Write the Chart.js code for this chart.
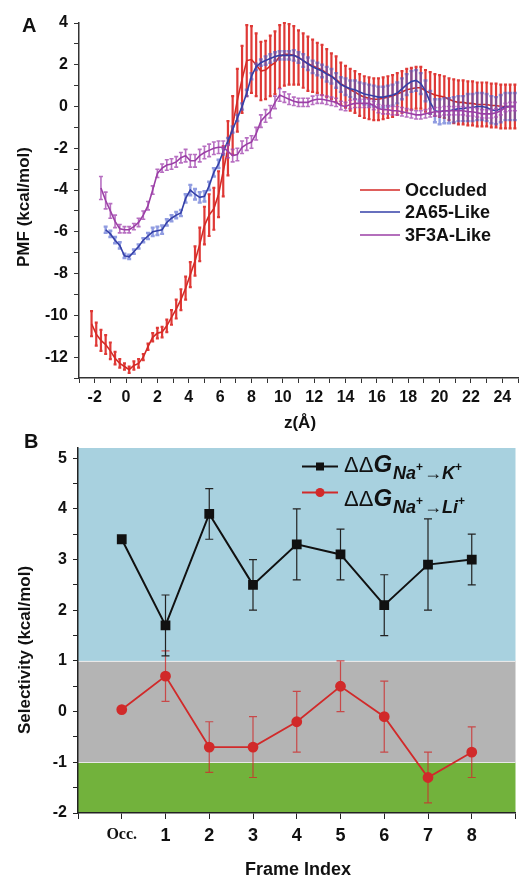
<!DOCTYPE html>
<html>
<head>
<meta charset="utf-8">
<script src="https://cdn.jsdelivr.net/npm/chart.js@4.4.1/dist/chart.umd.min.js"></script>
<style>
    html, body { margin: 0; padding: 0; background: #fff; }
    #wrapA { position: absolute; left: 0; top: 0; width: 523px; height: 440px; }
    #wrapB { position: absolute; left: 0; top: 420px; width: 523px; height: 461px; }
</style>
</head>
<body>
<div id="wrapA"><canvas id="pmfChart" width="523" height="440"></canvas></div>
<div id="wrapB"><canvas id="selChart" width="523" height="461"></canvas></div>
<script>
// ---- Panel A : PMF profiles (kcal/mol) along z (Å) ----
const zGrid = [
    -2.2, -1.9, -1.6, -1.3, -1.0, -0.7, -0.4, -0.1, 0.2, 0.5,
    0.8, 1.1, 1.4, 1.7, 2.0, 2.3, 2.6, 2.9, 3.2, 3.5,
    3.8, 4.1, 4.4, 4.7, 5.0, 5.3, 5.6, 5.9, 6.2, 6.5,
    6.8, 7.1, 7.4, 7.7, 8.0, 8.3, 8.6, 8.9, 9.2, 9.5,
    9.8, 10.1, 10.4, 10.7, 11.0, 11.3, 11.6, 11.9, 12.2, 12.5,
    12.8, 13.1, 13.4, 13.7, 14.0, 14.3, 14.6, 14.9, 15.2, 15.5,
    15.8, 16.1, 16.4, 16.7, 17.0, 17.3, 17.6, 17.9, 18.2, 18.5,
    18.8, 19.1, 19.4, 19.7, 20.0, 20.3, 20.6, 20.9, 21.2, 21.5,
    21.8, 22.1, 22.4, 22.7, 23.0, 23.3, 23.6, 23.9, 24.2, 24.5,
    24.8
];
const pmfOccluded = [
    -10.4, -10.9, -11.2, -11.4, -11.7, -12.05, -12.3, -12.45, -12.6, -12.4,
    -12.3, -12.0, -11.5, -11.05, -10.85, -10.8, -10.5, -10.1, -9.7, -9.25,
    -8.7, -8.05, -7.4, -6.6, -5.7, -5.2, -4.9, -4.2, -3.1, -2.0,
    -0.9, 0.3, 1.3, 2.2, 2.25, 2.0, 1.7, 1.75, 1.95, 2.1,
    2.4, 2.5, 2.5, 2.45, 2.35, 2.2, 2.05, 1.95, 1.85, 1.75,
    1.6, 1.45, 1.3, 1.1, 0.95, 0.8, 0.7, 0.55, 0.45, 0.4,
    0.35, 0.35, 0.4, 0.45, 0.5, 0.6, 0.7, 0.8, 0.85, 0.9,
    0.9, 0.75, 0.65, 0.55, 0.5, 0.45, 0.35, 0.25, 0.2, 0.2,
    0.15, 0.15, 0.1, 0.1, 0.1, 0.05, 0.05, 0, 0, 0,
    0
];
const errOccluded = [
    0.6, 0.55, 0.5, 0.45, 0.4, 0.3, 0.2, 0.15, 0.15, 0.2,
    0.2, 0.15, 0.15, 0.2, 0.25, 0.25, 0.3, 0.35, 0.45, 0.5,
    0.55, 0.6, 0.7, 0.8, 0.9, 1.0, 1.0, 1.1, 1.2, 1.3,
    1.4, 1.5, 1.6, 1.7, 1.6, 1.5, 1.4, 1.4, 1.45, 1.5,
    1.5, 1.5, 1.45, 1.4, 1.3, 1.3, 1.3, 1.25, 1.2, 1.2,
    1.15, 1.1, 1.1, 1.0, 1.0, 1.0, 1.0, 1.0, 1.0, 1.0,
    1.0, 1.0, 1.0, 1.0, 1.0, 1.0, 1.0, 1.0, 1.0, 1.0,
    1.0, 1.0, 1.0, 1.0, 1.0, 1.0, 1.0, 1.05, 1.05, 1.05,
    1.05, 1.05, 1.05, 1.05, 1.05, 1.05, 1.05, 1.05, 1.05, 1.05,
    1.05
];
const pmf2A65 = [
    null, null, null, -5.9, -6.1, -6.4, -6.65, -7.15, -7.2, -6.95,
    -6.7, -6.4, -6.2, -6.0, -5.95, -5.9, -5.55, -5.35, -5.2, -5.1,
    -4.4, -4.0, -4.2, -4.35, -4.3, -3.8, -3.15, -2.75, -2.15, -1.65,
    -1.1, -0.55, 0.0, 0.65, 1.45, 1.9, 2.1, 2.2, 2.3, 2.4,
    2.45, 2.45, 2.45, 2.45, 2.35, 2.2, 2.05, 1.9, 1.8, 1.7,
    1.55, 1.45, 1.25, 1.05, 0.95, 0.85, 0.8, 0.7, 0.6, 0.55,
    0.5, 0.45, 0.45, 0.5, 0.55, 0.65, 0.85, 1.05, 1.2, 1.25,
    1.1, 0.75, 0.2, -0.2, -0.25, -0.2, -0.2, -0.15, -0.1, -0.1,
    -0.05, -0.05, 0, 0, -0.05, -0.15, -0.2, -0.1, 0, 0,
    0
];
const err2A65 = [
    null, null, null, 0.15, 0.15, 0.15, 0.15, 0.1, 0.1, 0.1,
    0.1, 0.1, 0.15, 0.2, 0.2, 0.2, 0.15, 0.15, 0.15, 0.15,
    0.2, 0.25, 0.25, 0.25, 0.25, 0.2, 0.2, 0.2, 0.15, 0.15,
    0.15, 0.15, 0.15, 0.15, 0.15, 0.15, 0.15, 0.2, 0.2, 0.2,
    0.2, 0.2, 0.2, 0.25, 0.25, 0.3, 0.3, 0.3, 0.3, 0.3,
    0.35, 0.35, 0.35, 0.35, 0.4, 0.4, 0.45, 0.45, 0.5, 0.5,
    0.5, 0.5, 0.5, 0.5, 0.5, 0.5, 0.5, 0.5, 0.5, 0.5,
    0.5, 0.5, 0.55, 0.55, 0.6, 0.6, 0.6, 0.6, 0.6, 0.6,
    0.65, 0.65, 0.65, 0.65, 0.65, 0.65, 0.65, 0.65, 0.65, 0.65,
    0.65
];
const pmf3F3A = [
    null, null, -3.9, -4.5, -5.0, -5.5, -5.85, -5.9, -5.9, -5.75,
    -5.55, -5.2, -4.75, -4.0, -3.2, -2.95, -2.8, -2.75, -2.65, -2.45,
    -2.35, -2.6, -2.6, -2.35, -2.2, -2.1, -2.0, -1.95, -1.95, -2.15,
    -2.35, -2.3, -1.95, -1.8, -1.7, -1.3, -0.7, -0.45, -0.25, 0.2,
    0.55, 0.45, 0.35, 0.25, 0.2, 0.2, 0.2, 0.3, 0.35, 0.35,
    0.3, 0.25, 0.2, 0.05, 0.0, 0.1, 0.15, 0.15, 0.15, 0.15,
    0.05, -0.1, -0.15, -0.15, -0.2, -0.2, -0.25, -0.3, -0.35, -0.4,
    -0.4, -0.35, -0.3, -0.25, -0.25, -0.2, -0.2, -0.2, -0.2, -0.2,
    -0.25, -0.25, -0.3, -0.35, -0.35, -0.35, -0.3, -0.2, -0.05, 0,
    0
];
const err3F3A = [
    null, null, 0.55, 0.4, 0.35, 0.3, 0.2, 0.15, 0.15, 0.15,
    0.2, 0.2, 0.2, 0.2, 0.2, 0.2, 0.25, 0.25, 0.25, 0.25,
    0.3, 0.3, 0.3, 0.3, 0.3, 0.3, 0.3, 0.3, 0.3, 0.3,
    0.3, 0.3, 0.3, 0.3, 0.3, 0.3, 0.3, 0.3, 0.3, 0.3,
    0.3, 0.25, 0.25, 0.2, 0.2, 0.2, 0.2, 0.2, 0.2, 0.2,
    0.2, 0.2, 0.2, 0.2, 0.2, 0.2, 0.2, 0.2, 0.2, 0.2,
    0.2, 0.2, 0.2, 0.2, 0.2, 0.2, 0.2, 0.2, 0.2, 0.2,
    0.2, 0.2, 0.2, 0.2, 0.2, 0.2, 0.2, 0.2, 0.2, 0.2,
    0.2, 0.2, 0.2, 0.2, 0.2, 0.2, 0.2, 0.2, 0.2, 0.2,
    0.2
];
const pmfNames = ['Occluded', '2A65-Like', '3F3A-Like'];

// ---- Panel B : selectivity per frame ----
const frameLabels = ['Occ.', '1', '2', '3', '4', '5', '6', '7', '8'];
const frameIndex = [0, 1, 2, 3, 4, 5, 6, 7, 8];
const ddgK = [3.4, 1.7, 3.9, 2.5, 3.3, 3.1, 2.1, 2.9, 3.0];
const ddgKErr = [null, 0.6, 0.5, 0.5, 0.7, 0.5, 0.6, 0.9, 0.5];
const ddgLi = [0.04, 0.7, -0.7, -0.7, -0.2, 0.5, -0.1, -1.3, -0.8];
const ddgLiErr = [null, 0.5, 0.5, 0.6, 0.6, 0.5, 0.7, 0.5, 0.5];
const bandLower = [-2, -1, 1];
const bandUpper = [-1, 1, 5.2];
const bandColors = ['#72b23c', '#b4b4b4', '#a8d1df'];

const SANS = "'Liberation Sans', Arial, sans-serif";
Chart.defaults.font.family = SANS;
Chart.defaults.color = '#111';

function toPoints(xs, ys, errs) {
    const pts = [];
    xs.forEach((x, i) => {
        if (ys[i] !== null) pts.push({ x: x, y: ys[i], e: errs[i] });
    });
    return pts;
}

// barres d'erreur dessinées via les échelles du graphique
const errorBars = {
    id: 'errorBars',
    beforeDatasetDraw(chart, args) {
        const ds = chart.data.datasets[args.index];
        if (!ds.errorColor) return;
        const xs = chart.scales.x, ys = chart.scales.y, ctx = chart.ctx;
        ctx.save();
        ctx.strokeStyle = ds.errorColor;
        ctx.lineWidth = ds.errorWidth;
        ds.data.forEach(p => {
            if (p.e == null) return;
            const x = xs.getPixelForValue(p.x);
            const y1 = ys.getPixelForValue(p.y - p.e);
            const y2 = ys.getPixelForValue(p.y + p.e);
            const c = ds.capHalf;
            ctx.beginPath();
            ctx.moveTo(x, y1); ctx.lineTo(x, y2);
            if (c) {
                ctx.moveTo(x - c, y1); ctx.lineTo(x + c, y1);
                ctx.moveTo(x - c, y2); ctx.lineTo(x + c, y2);
            }
            ctx.stroke();
        });
        ctx.restore();
    }
};

function rotatedText(ctx, text, x, y) {
    ctx.save();
    ctx.translate(x, y);
    ctx.rotate(-Math.PI / 2);
    ctx.fillText(text, 0, 0);
    ctx.restore();
}

// textes, légende du panneau A
const pmfDecor = {
    id: 'pmfDecor',
    afterDraw(chart) {
        const ctx = chart.ctx;
        ctx.save();
        ctx.fillStyle = '#111';
        ctx.textBaseline = 'middle';
        ctx.textAlign = 'left';
        ctx.font = 'bold 20px ' + SANS;
        ctx.fillText('A', 22, 26);
        ctx.textAlign = 'center';
        ctx.font = 'bold 17px ' + SANS;
        ctx.fillText('z(Å)', 300, 423);
        rotatedText(ctx, 'PMF (kcal/mol)', 24, 207);
        // légende
        const rows = [190, 212, 235];
        ctx.textAlign = 'left';
        ctx.font = 'bold 18px ' + SANS;
        pmfNames.forEach((name, i) => {
            ctx.strokeStyle = chart.data.datasets[i].borderColor;
            ctx.lineWidth = 1.5;
            ctx.beginPath();
            ctx.moveTo(360, rows[i]); ctx.lineTo(400, rows[i]);
            ctx.stroke();
            ctx.fillText(name, 405, rows[i] + 1);
        });
        ctx.restore();
    }
};

// fonds colorés du panneau B
const selBands = {
    id: 'selBands',
    beforeDraw(chart) {
        const ctx = chart.ctx, ys = chart.scales.y, area = chart.chartArea;
        ctx.save();
        bandLower.forEach((lo, i) => {
            const yTop = ys.getPixelForValue(bandUpper[i]);
            const yBot = ys.getPixelForValue(lo);
            ctx.fillStyle = bandColors[i];
            ctx.fillRect(area.left, yTop, area.right - area.left, yBot - yTop);
        });
        ctx.strokeStyle = '#e8e8e8';
        ctx.lineWidth = 1;
        [-1, 1].forEach(v => {
            const y = Math.round(ys.getPixelForValue(v)) + 0.5;
            ctx.beginPath();
            ctx.moveTo(area.left, y); ctx.lineTo(area.right, y);
            ctx.stroke();
        });
        ctx.restore();
    }
};

function drawDdgLabel(ctx, x, yBase, ySub, ion) {
    ctx.textAlign = 'left';
    ctx.textBaseline = 'alphabetic';
    ctx.font = '22px ' + SANS;
    ctx.fillText('ΔΔ', x, yBase);
    x += ctx.measureText('ΔΔ').width;
    ctx.font = 'italic bold 24px ' + SANS;
    ctx.fillText('G', x, yBase);
    x += ctx.measureText('G').width + 1;
    const parts = [['Na', 0], ['+', 1], ['\u2192', 0], [ion, 0], ['+', 1]];
    parts.forEach(([t, sup]) => {
        ctx.font = sup ? 'bold 12px ' + SANS : 'italic bold 18px ' + SANS;
        ctx.fillText(t, x, sup ? ySub - 8 : ySub);
        x += ctx.measureText(t).width + (sup ? 1 : 0);
    });
}

// textes, légende du panneau B
const selDecor = {
    id: 'selDecor',
    afterDraw(chart) {
        const ctx = chart.ctx;
        ctx.save();
        ctx.fillStyle = '#111';
        ctx.textBaseline = 'middle';
        ctx.textAlign = 'left';
        ctx.font = 'bold 20px ' + SANS;
        ctx.fillText('B', 24, 22);
        ctx.textAlign = 'center';
        ctx.font = 'bold 18px ' + SANS;
        ctx.fillText('Frame Index', 298, 450);
        ctx.font = 'bold 17px ' + SANS;
        rotatedText(ctx, 'Selectivity (kcal/mol)', 25, 230);
        // légende
        const k = chart.data.datasets[0], li = chart.data.datasets[1];
        ctx.lineWidth = 2;
        ctx.strokeStyle = k.borderColor;
        ctx.beginPath(); ctx.moveTo(302, 46.5); ctx.lineTo(338, 46.5); ctx.stroke();
        ctx.fillStyle = k.borderColor;
        ctx.fillRect(316, 42.5, 8, 8);
        ctx.strokeStyle = li.borderColor;
        ctx.beginPath(); ctx.moveTo(302, 72.5); ctx.lineTo(338, 72.5); ctx.stroke();
        ctx.fillStyle = li.borderColor;
        ctx.beginPath(); ctx.arc(320, 72.5, 4.5, 0, Math.PI * 2); ctx.fill();
        ctx.fillStyle = '#111';
        drawDdgLabel(ctx, 344, 52, 59, 'K');
        drawDdgLabel(ctx, 344, 86, 93, 'Li');
        ctx.restore();
    }
};

function initPmfChart() {
    const ctx = document.getElementById('pmfChart').getContext('2d');
    const lineBase = { showLine: true, pointRadius: 0, borderWidth: 1.6, tension: 0, fill: false };
    new Chart(ctx, {
        type: 'scatter',
        data: {
            datasets: [
                Object.assign({}, lineBase, {
                    label: pmfNames[0], data: toPoints(zGrid, pmfOccluded, errOccluded),
                    borderColor: '#d42a26', errorColor: 'rgba(220, 36, 32, 0.9)', errorWidth: 2.2, capHalf: 1.5, order: 3
                }),
                Object.assign({}, lineBase, {
                    label: pmfNames[1], data: toPoints(zGrid, pmf2A65, err2A65),
                    borderColor: '#3540a8', errorColor: 'rgba(70, 90, 205, 0.6)', errorWidth: 2.4, capHalf: 2, order: 2
                }),
                Object.assign({}, lineBase, {
                    label: pmfNames[2], data: toPoints(zGrid, pmf3F3A, err3F3A),
                    borderColor: '#9b3fa6', errorColor: 'rgba(165, 75, 178, 0.8)', errorWidth: 1.6, capHalf: 2, order: 1
                })
            ]
        },
        options: {
            responsive: false,
            animation: false,
            layout: { padding: { top: 23, right: 0, left: 0, bottom: 0 } },
            plugins: { legend: { display: false }, tooltip: { enabled: false } },
            scales: {
                x: {
                    type: 'linear', min: -3, max: 25,
                    afterFit: s => { s.height = 62; },
                    grid: { drawOnChartArea: false, tickLength: 5, color: '#333' },
                    border: { color: '#333', width: 1.5 },
                    ticks: {
                        stepSize: 1, autoSkip: false, maxRotation: 0, padding: 5,
                        font: { size: 16, weight: 'bold' }, color: '#111',
                        callback: v => (v % 2 === 0 && v >= -2 && v <= 24) ? v : ''
                    }
                },
                y: {
                    min: -13, max: 4,
                    afterFit: s => { s.width = 79; },
                    grid: { drawOnChartArea: false, tickLength: 5, color: '#333' },
                    border: { color: '#333', width: 1.5 },
                    ticks: {
                        stepSize: 1, autoSkip: false, padding: 6,
                        font: { size: 16, weight: 'bold' }, color: '#111',
                        callback: v => (v % 2 === 0) ? v : ''
                    }
                }
            }
        },
        plugins: [errorBars, pmfDecor]
    });
}

function initSelChart() {
    const ctx = document.getElementById('selChart').getContext('2d');
    new Chart(ctx, {
        type: 'scatter',
        data: {
            datasets: [
                {
                    label: 'K', data: toPoints(frameIndex, ddgK, ddgKErr), showLine: true,
                    borderColor: '#111', backgroundColor: '#111', borderWidth: 2,
                    pointStyle: 'rect', pointRadius: 5.5,
                    errorColor: '#222', errorWidth: 1.2, capHalf: 4
                },
                {
                    label: 'Li', data: toPoints(frameIndex, ddgLi, ddgLiErr), showLine: true,
                    borderColor: '#d12a2a', backgroundColor: '#d12a2a', borderWidth: 1.8,
                    pointStyle: 'circle', pointRadius: 4.5,
                    errorColor: 'rgba(205, 45, 45, 0.8)', errorWidth: 1.2, capHalf: 4
                }
            ]
        },
        options: {
            responsive: false,
            animation: false,
            layout: { padding: { top: 28, right: 5, left: 0, bottom: 0 } },
            plugins: { legend: { display: false }, tooltip: { enabled: false } },
            scales: {
                x: {
                    type: 'linear', min: -1, max: 9,
                    afterFit: s => { s.height = 68; },
                    grid: { drawOnChartArea: false, tickLength: 6, color: '#222' },
                    border: { color: '#222', width: 1.5 },
                    ticks: {
                        stepSize: 1, autoSkip: false, maxRotation: 0, padding: 6, color: '#111',
                        font: c => (c.tick && c.tick.value === 0)
                            ? { family: "'Liberation Serif', 'Times New Roman', serif", size: 16, weight: 'bold' }
                            : { size: 18, weight: 'bold' },
                        callback: v => (v >= 0 && v <= 8) ? frameLabels[v] : ''
                    }
                },
                y: {
                    min: -2, max: 5.2,
                    afterFit: s => { s.width = 78; },
                    grid: { drawOnChartArea: false, tickLength: 5, color: '#222' },
                    border: { color: '#222', width: 1.5 },
                    ticks: {
                        stepSize: 0.5, includeBounds: false, autoSkip: false, padding: 6,
                        font: { size: 16, weight: 'bold' }, color: '#111',
                        callback: v => Number.isInteger(v) ? v : ''
                    }
                }
            }
        },
        plugins: [selBands, errorBars, selDecor]
    });
}

document.addEventListener('DOMContentLoaded', function() {
    initPmfChart();
    initSelChart();
});
</script>
</body>
</html>
